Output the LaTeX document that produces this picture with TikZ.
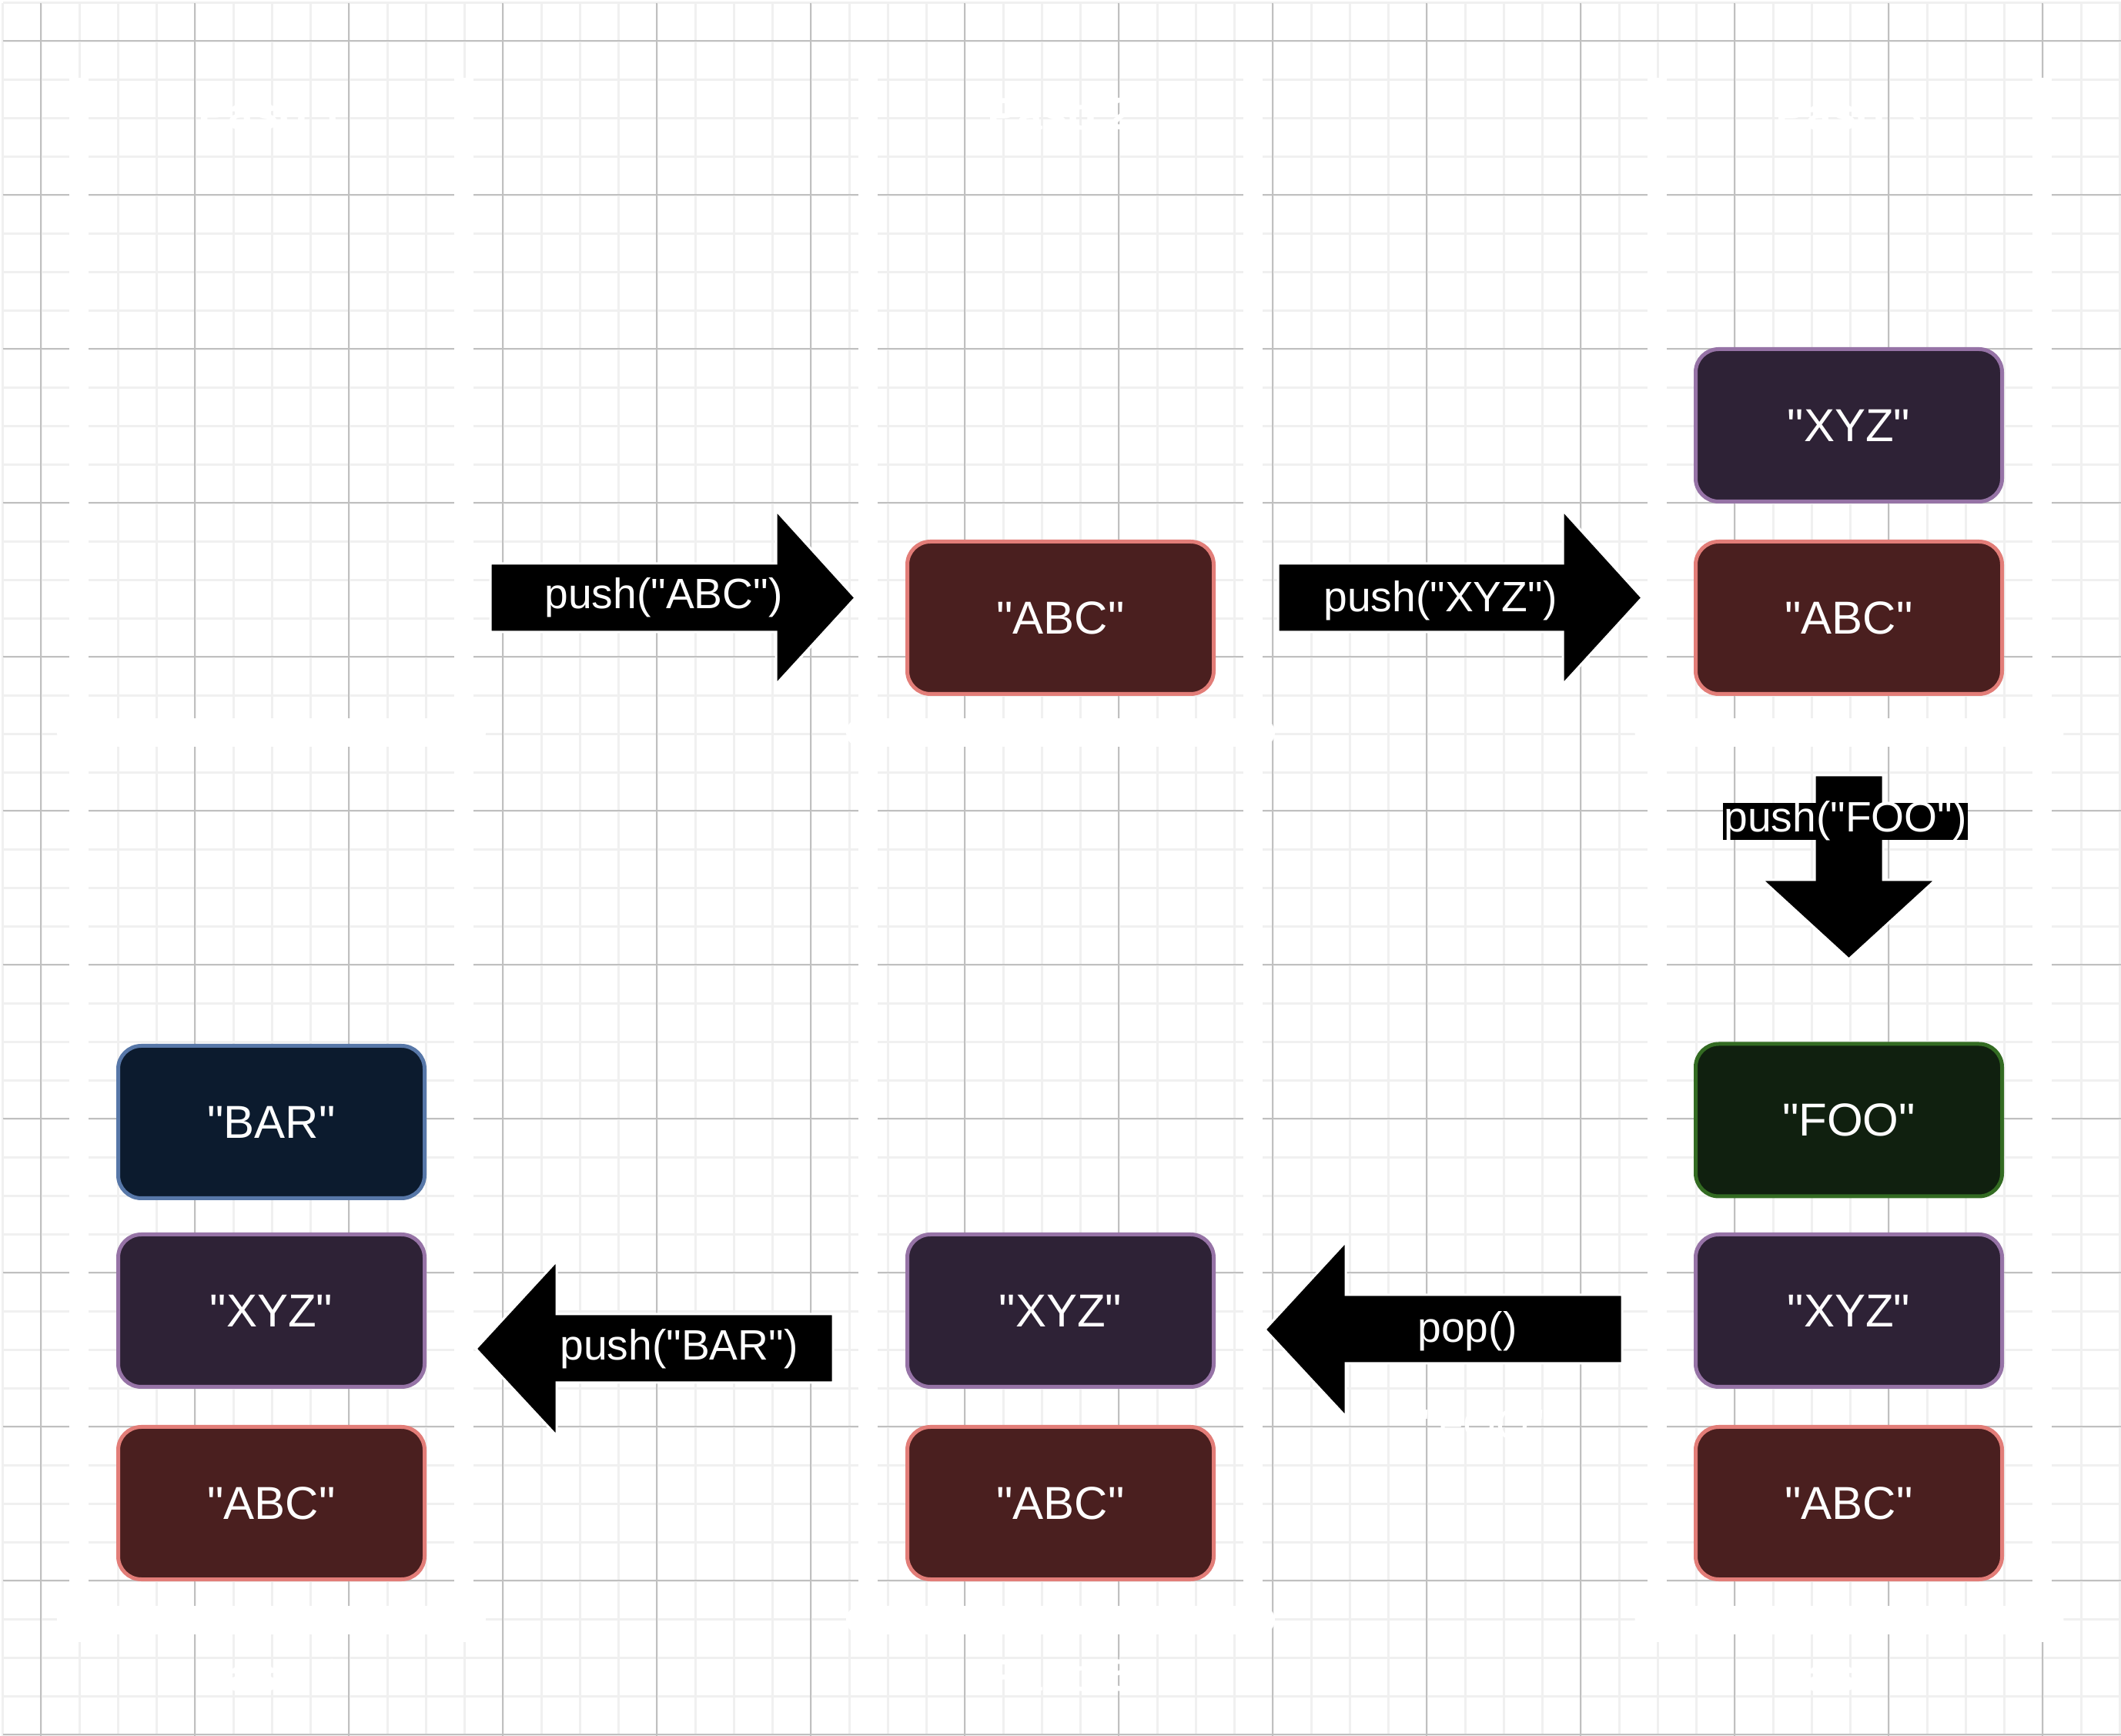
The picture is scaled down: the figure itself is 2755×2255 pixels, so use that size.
\documentclass[tikz,border=0pt]{standalone}
\usepackage{fontspec}
\newfontfamily\plainsans{Liberation Sans}
\definecolor{gridmajor}{HTML}{C0C0C0}
\definecolor{gridminor}{HTML}{F0F0F0}
\definecolor{abcfill}{HTML}{4A1F1F}
\definecolor{abcline}{HTML}{E27D78}
\definecolor{xyzfill}{HTML}{2E2236}
\definecolor{xyzline}{HTML}{9673A6}
\definecolor{foofill}{HTML}{10200F}
\definecolor{fooline}{HTML}{336B22}
\definecolor{barfill}{HTML}{0C1B2E}
\definecolor{barline}{HTML}{5777A8}
\begin{document}
\begin{tikzpicture}[x=0.25pt,y=-0.25pt,
  minorline/.style={draw=gridminor, line width=0.85pt},
  majorline/.style={draw=gridmajor, line width=0.5pt},
  frameband/.style={draw=white, line width=6.25pt},
  framecap/.style={draw=white, line width=9.25pt, line cap=round},
  titletext/.style={text=white, inner sep=0pt, font=\plainsans\fontsize{14.75}{17}\selectfont\bfseries},
  stackbox/.style={rectangle, rounded corners=7.5pt, minimum width=99.5pt, minimum height=49.5pt, line width=1.25pt, text=white, inner sep=0pt, font=\plainsans\fontsize{15}{17}\selectfont},
  abc/.style={stackbox, fill=abcfill, draw=abcline},
  xyz/.style={stackbox, fill=xyzfill, draw=xyzline},
  foo/.style={stackbox, fill=foofill, draw=fooline},
  bar/.style={stackbox, fill=barfill, draw=barline},
  blockarrow/.style={fill=black, draw=white, line width=0.75pt, line join=miter},
  arrowlabel/.style={text=white, inner sep=0pt, font=\plainsans\fontsize{13.8}{16}\selectfont},
]
\useasboundingbox (0,0) rectangle (2755,2255);
\fill[white] (0,0) rectangle (2755,2255);
% grid
\foreach \i in {0,...,55} \draw[minorline] ({3.3+50*\i},4) -- ({3.3+50*\i},2255);
\foreach \i in {0,...,45} \draw[minorline] (4,{3.3+50*\i}) -- (2755,{3.3+50*\i});
\foreach \i in {0,...,13} \draw[majorline] ({53.3+200*\i},4) -- ({53.3+200*\i},2255);
\foreach \i in {0,...,11} \draw[majorline] (4,{53.3+200*\i}) -- (2755,{53.3+200*\i});
% white step frames
\foreach \cx in {352.5,1377.5,2402} {
  \draw[frameband] (\cx-250,101) -- (\cx-250,960);
  \draw[frameband] (\cx+250,101) -- (\cx+250,960);
  \draw[framecap] (\cx-260,952) -- (\cx+260,952);
  \draw[frameband] (\cx-250,963) -- (\cx-250,2133);
  \draw[frameband] (\cx+250,963) -- (\cx+250,2133);
  \draw[framecap] (\cx-260,2104) -- (\cx+260,2104);
}
\node[titletext] (t1) at (352.5,148) {Paso 1};
\node[titletext] (t2) at (1377.5,148) {Paso 2};
\node[titletext] (t3) at (2402,148) {Paso 3};
\node[titletext] (t4) at (2402,2176) {Paso 4};
\node[titletext] (t5) at (1377.5,2176) {Paso 5};
\node[titletext] (t6) at (352.5,2176) {Paso 6};
% stack boxes
\node[abc] (s2abc) at (1377.5,802.5) {"ABC"};
\node[xyz] (s3xyz) at (2401.5,552.5) {"XYZ"};
\node[abc] (s3abc) at (2401.5,802.5) {"ABC"};
\node[foo] (s4foo) at (2401.5,1455) {"FOO"};
\node[xyz] (s4xyz) at (2401.5,1702.5) {"XYZ"};
\node[abc] (s4abc) at (2401.5,1952.5) {"ABC"};
\node[xyz] (s5xyz) at (1377.5,1702.5) {"XYZ"};
\node[abc] (s5abc) at (1377.5,1952.5) {"ABC"};
\node[bar] (s6bar) at (352.5,1457.5) {"BAR"};
\node[xyz] (s6xyz) at (352.5,1702.5) {"XYZ"};
\node[abc] (s6abc) at (352.5,1952.5) {"ABC"};
% block arrows
\path[blockarrow] (637,732) -- (1008,732) -- (1008,663) -- (1111,776.5) -- (1008,889) -- (1008,821) -- (637,821) -- cycle;
\path[blockarrow] (1660,732) -- (2030,732) -- (2030,663) -- (2133,776.5) -- (2030,889) -- (2030,821) -- (1660,821) -- cycle;
\path[blockarrow] (2357,1007) -- (2446,1007) -- (2446,1143) -- (2514,1143) -- (2401.5,1246) -- (2289,1143) -- (2357,1143) -- cycle;
\path[blockarrow] (2107,1682) -- (1748,1682) -- (1748,1613) -- (1643,1727) -- (1748,1840) -- (1748,1771) -- (2107,1771) -- cycle;
\path[blockarrow] (1082,1707) -- (723,1707) -- (723,1638) -- (618,1752) -- (723,1865) -- (723,1796) -- (1082,1796) -- cycle;
% arrow labels
\node[arrowlabel] (lab1) at (862,776) {push("ABC")};
\node[arrowlabel] (lab2) at (1871,780) {push("XYZ")};
\node[arrowlabel, fill=black, text height=0.905em, text depth=0.212em, inner xsep=0.4pt, inner ysep=0.5pt] (lab3) at (2397,1067) {push("FOO")};
\node[arrowlabel] (lab4) at (1906,1729) {pop()};
\node[arrowlabel] (lab5) at (882,1752) {push("BAR")};
\node[arrowlabel] (ret4) at (1927,1850) {"FOO"};
\end{tikzpicture}
\end{document}
